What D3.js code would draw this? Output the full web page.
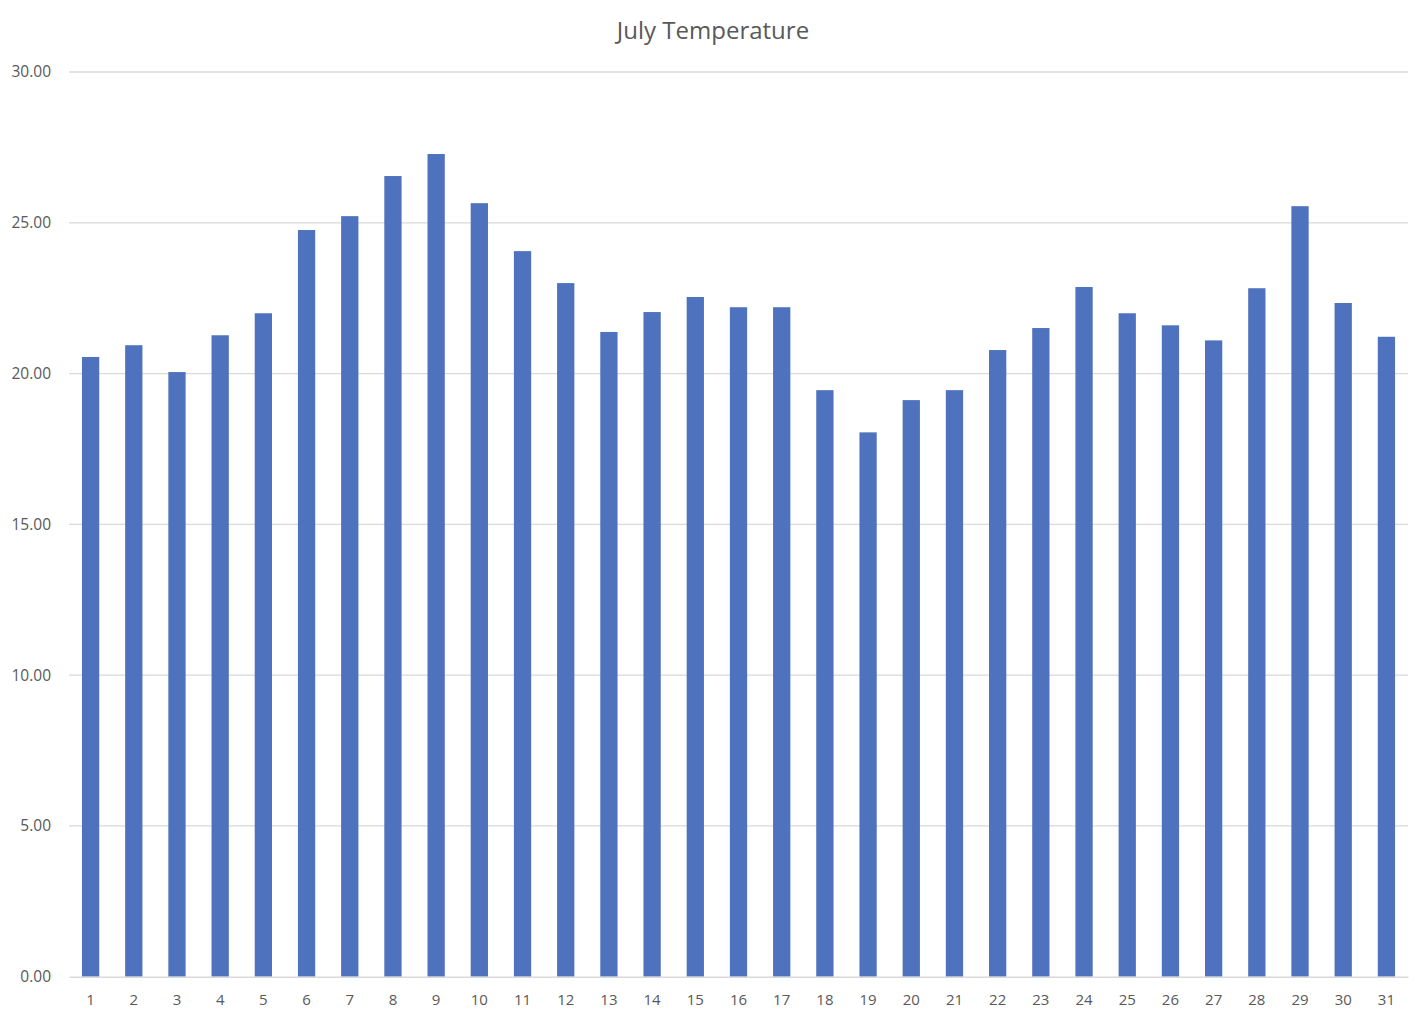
<!DOCTYPE html>
<html lang="en">
<head>
    <meta charset="UTF-8">
    <title>July Temperature</title>
    <script src="https://cdn.jsdelivr.net/npm/d3@7"></script>
    <style>
        html,
        body {
            margin: 0;
            background: #fff;
        }
        svg {
            display: block;
        }
    </style>
</head>
<body>
<svg id="container"></svg>
<script>
    const days = d3.range(1, 32).map(String);
    const temps = [
        20.55, 20.94, 20.05, 21.27, 22.00, 24.76, 25.22, 26.55, 27.28, 25.65,
        24.06, 23.00, 21.38, 22.04, 22.54, 22.20, 22.20, 19.45, 18.05, 19.12,
        19.45, 20.78, 21.51, 22.87, 22.00, 21.60, 21.10, 22.83, 25.55, 22.34,
        21.22
    ];
    const yTicks = [0, 5, 10, 15, 20, 25, 30];
    const title = 'July Temperature';

    const width = 1426;
    const height = 1020;
    const margin = {top: 72, left: 69, bottom: 43.3, right: 18};
    const innerWidth = width - margin.left - margin.right;
    const innerHeight = height - margin.top - margin.bottom;
    const font = '"Open Sans", "Noto Sans", sans-serif';
    const textColor = '#595959';

    const svg = d3.select('#container')
        .attr('width', width)
        .attr('height', height);

    const data = days.map((d, i) => ({day: d, value: temps[i]}));

    const xScale = d3.scaleBand()
        .domain(days)
        .range([0, innerWidth])
        .paddingInner(0.6)
        .paddingOuter(0.3);

    const yScale = d3.scaleLinear()
        .domain([0, 30])
        .range([innerHeight, 0]);

    const g = svg.append('g').attr('transform', `translate(${margin.left}, ${margin.top})`);

    // gridlines
    g.append('g')
        .selectAll('line')
        .data(yTicks.slice(1))
        .join('line')
        .attr('x1', 0)
        .attr('x2', innerWidth)
        .attr('y1', d => yScale(d))
        .attr('y2', d => yScale(d))
        .attr('stroke', '#d9d9d9')
        .attr('stroke-width', 1.3);

    g.selectAll('rect')
        .data(data)
        .join('rect')
        .attr('x', d => xScale(d.day))
        .attr('y', d => yScale(d.value))
        .attr('width', xScale.bandwidth())
        .attr('height', d => innerHeight - yScale(d.value))
        .attr('fill', '#4e72bd');

    const yAxis = d3.axisLeft(yScale)
        .tickValues(yTicks)
        .tickFormat(d3.format('.2f'))
        .tickSize(0)
        .tickPadding(18);
    g.append('g')
        .call(yAxis)
        .attr('font-family', font)
        .attr('font-size', 15.5)
        .call(s => s.select('.domain').remove())
        .selectAll('text')
        .attr('fill', textColor);

    const xAxis = d3.axisBottom(xScale)
        .tickSize(0)
        .tickPadding(18);
    g.append('g')
        .attr('transform', `translate(0,${innerHeight})`)
        .call(xAxis)
        .attr('font-family', font)
        .attr('font-size', 15)
        .call(s => s.select('.domain').attr('stroke', '#d9d9d9').attr('stroke-width', 1.5))
        .selectAll('text')
        .attr('fill', textColor);

    svg.append('text')
        .attr('x', width / 2)
        .attr('y', 39)
        .attr('text-anchor', 'middle')
        .attr('font-family', font)
        .attr('font-size', 24)
        .attr('fill', textColor)
        .text(title);
</script>
</body>
</html>
